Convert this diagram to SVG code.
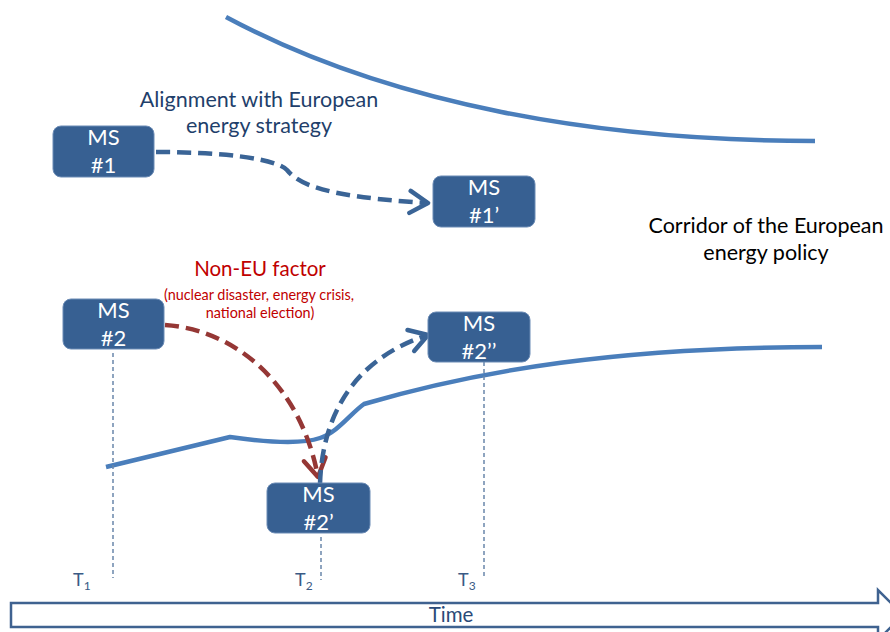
<svg xmlns="http://www.w3.org/2000/svg" width="890" height="632" viewBox="0 0 890 632">
  <style>
    .corridor { fill: none; stroke: #4A7EBB; stroke-width: 4.5; stroke-linejoin: round; }
    .box { fill: #376092; stroke: #6B8BB5; stroke-width: 1; }
    .boxtxt { font-family: Lato, "Liberation Sans", sans-serif; font-size: 22px; fill: #FFFFFF; text-anchor: middle; }
    .flow { fill: none; stroke-width: 4.5; stroke-dasharray: 14 7; }
    .blue { stroke: #3A6496; }
    .red { stroke: #953735; }
    .tick { fill: none; stroke: #6A86AA; stroke-width: 1.5; stroke-dasharray: 4 3; }
    .lbl { font-family: Lato, "Liberation Sans", sans-serif; text-anchor: middle; }
    .tlbl { font-family: Lato, "Liberation Sans", sans-serif; font-size: 18px; fill: #3A5A85; }
  </style>
  <defs>
    <marker id="headBlue" markerUnits="userSpaceOnUse" markerWidth="26" markerHeight="28" viewBox="0 0 26 28" refX="22" refY="14" orient="auto">
      <path d="M4,3 L22,14 L4,25" fill="none" stroke="#3A6496" stroke-width="4.5" stroke-linecap="round" stroke-linejoin="round"/>
    </marker>
    <marker id="headRed" markerUnits="userSpaceOnUse" markerWidth="26" markerHeight="28" viewBox="0 0 26 28" refX="22" refY="14" orient="auto">
      <path d="M4,3 L22,14 L4,25" fill="none" stroke="#953735" stroke-width="4.5" stroke-linecap="round" stroke-linejoin="round"/>
    </marker>
  </defs>

  <!-- corridor boundaries -->
  <g id="corridor">
    <path class="corridor" d="M226,17 C390,105 600,141 815,141"/>
    <path class="corridor" d="M106,467 L230,437 C265,442 300,445 320,438 C338,432 350,414 364,404 C480,370 620,347 822,347"/>
  </g>

  <!-- time markers -->
  <g id="time-markers">
    <line class="tick" x1="113" y1="353" x2="113" y2="578"/>
    <line class="tick" x1="321" y1="537" x2="321" y2="580"/>
    <line class="tick" x1="484" y1="362" x2="484" y2="578"/>
    <text class="tlbl" x="73" y="586">T<tspan font-size="12" dy="4">1</tspan></text>
    <text class="tlbl" x="295" y="586">T<tspan font-size="12" dy="4">2</tspan></text>
    <text class="tlbl" x="458" y="586">T<tspan font-size="12" dy="4">3</tspan></text>
  </g>

  <!-- time axis -->
  <g id="time-axis">
    <polygon points="11,603 878,603 878,590 903,615 878,640 878,627 11,627" fill="#FFFFFF" stroke="#3F6290" stroke-width="2.5" stroke-linejoin="miter"/>
    <text class="lbl" x="451" y="622" font-size="20.5" fill="#2A4A78">Time</text>
  </g>

  <!-- labels -->
  <g id="labels">
    <text class="lbl" x="259" y="107" font-size="21.5" fill="#1F3F6B">Alignment with European</text>
    <text class="lbl" x="259" y="133" font-size="21.5" fill="#1F3F6B">energy strategy</text>
    <text class="lbl" x="766" y="233" font-size="21.5" fill="#000000">Corridor of the European</text>
    <text class="lbl" x="766" y="260" font-size="21.5" fill="#000000">energy policy</text>
    <text class="lbl" x="260" y="276" font-size="20.5" fill="#C00000">Non-EU factor</text>
    <text class="lbl" x="259" y="300" font-size="14.4" fill="#C00000">(nuclear disaster, energy crisis,</text>
    <text class="lbl" x="260" y="318" font-size="14.4" fill="#C00000">national election)</text>
  </g>

  <!-- connectors -->
  <g id="connectors">
    <path class="flow blue" d="M156,152 C220,152 275,158 287,170 C300,186 330,197 428,203" marker-end="url(#headBlue)"/>
    <path class="flow red" d="M165,325 C240,330 302,390 318,477" marker-end="url(#headRed)"/>
    <path class="flow blue" d="M320,484 C322,420 350,360 428,335" marker-end="url(#headBlue)"/>
  </g>

  <!-- member state nodes -->
  <g id="ms1">
    <rect class="box" x="53" y="126" width="101" height="51" rx="8"/>
    <text class="boxtxt" x="103.5" y="145">MS</text>
    <text class="boxtxt" x="103.5" y="173">#1</text>
  </g>
  <g id="ms1p">
    <rect class="box" x="433" y="176" width="102" height="51" rx="8"/>
    <text class="boxtxt" x="484" y="195">MS</text>
    <text class="boxtxt" x="484" y="223">#1’</text>
  </g>
  <g id="ms2">
    <rect class="box" x="63" y="299" width="101" height="50" rx="8"/>
    <text class="boxtxt" x="113.5" y="318">MS</text>
    <text class="boxtxt" x="113.5" y="346">#2</text>
  </g>
  <g id="ms2pp">
    <rect class="box" x="428" y="312" width="102" height="50" rx="8"/>
    <text class="boxtxt" x="479" y="331">MS</text>
    <text class="boxtxt" x="479" y="359">#2’’</text>
  </g>
  <g id="ms2p">
    <rect class="box" x="267" y="483" width="103" height="50" rx="8"/>
    <text class="boxtxt" x="318.5" y="502">MS</text>
    <text class="boxtxt" x="318.5" y="530">#2’</text>
  </g>
</svg>
